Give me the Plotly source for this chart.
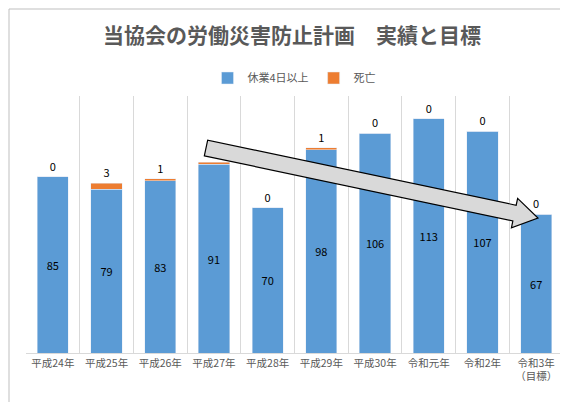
import plotly.graph_objects as go
import numpy as np

categories = ["平成24年","平成25年","平成26年","平成27年","平成28年","平成29年","平成30年","令和元年","令和2年","令和3年<br>（目標）"]
kyugyo = [85,79,83,91,70,98,106,113,107,67]
shibo = [0,3,1,1,0,1,0,0,0,0]

W,H = 568,402
L,R,T,B = 18,13,88,57
pw,ph = W-L-R, H-T-B

fig = go.Figure()
fig.add_bar(x=categories, y=kyugyo, name="休業4日以上", marker_color="#5B9BD5",
            text=kyugyo, textposition="inside", insidetextanchor="middle",
            textfont=dict(color="black", size=11), width=0.58)
fig.add_bar(x=categories, y=shibo, name="死亡", marker_color="#ED7D31",
            text=shibo, textposition="outside", textfont=dict(color="black", size=11),
            cliponaxis=False, width=0.58)

S = np.array([198.0,140.0]); Tp = np.array([530.0,210.0])
d = (Tp-S)/np.linalg.norm(Tp-S); n = np.array([-d[1], d[0]])
hw, hh, hl = 8, 15, 24
base = Tp - d*hl
pts = [S+n*hw, base+n*hw, base+n*hh, Tp, base-n*hh, base-n*hw, S-n*hw]
def tp(p): return ((p[0]-L)/pw, (T+ph-p[1])/ph)
path = "M " + " L ".join(f"{tp(p)[0]:.4f},{tp(p)[1]:.4f}" for p in pts) + " Z"
fig.add_shape(type="path", path=path, xref="paper", yref="paper",
              fillcolor="#D9D9D9", line=dict(color="black", width=1.2))
fig.add_shape(type="rect", xref="paper", yref="paper",
              x0=(1-L)/pw, x1=(W-3-L)/pw, y0=-(B-3)/ph, y1=(T-1)/ph+1,
              line=dict(color="#BFBFBF", width=1), layer="below")

fig.update_layout(
    width=W, height=H, barmode="stack", bargap=0.42,
    margin=dict(l=L, r=R, t=T, b=B, autoexpand=False),
    paper_bgcolor="white", plot_bgcolor="white",
    font=dict(family="Noto Sans CJK JP", color="#595959"),
    title=dict(text="<b>当協会の労働災害防止計画　実績と目標</b>", x=0.5, xanchor="center",
               y=0.93, yanchor="middle", font=dict(size=21, color="#595959")),
    legend=dict(orientation="h", x=0.5, xanchor="center", y=1.07, yanchor="middle",
                traceorder="normal", font=dict(size=11, color="#595959")),
    xaxis=dict(tickson="boundaries", showgrid=True, gridcolor="#D9D9D9", automargin=False,
               showline=True, linecolor="#D9D9D9", ticks="", tickfont=dict(size=10.5, color="#595959")),
    yaxis=dict(range=[0,124], visible=False, automargin=False),
    showlegend=True,
)
fig.write_html("out.html")
